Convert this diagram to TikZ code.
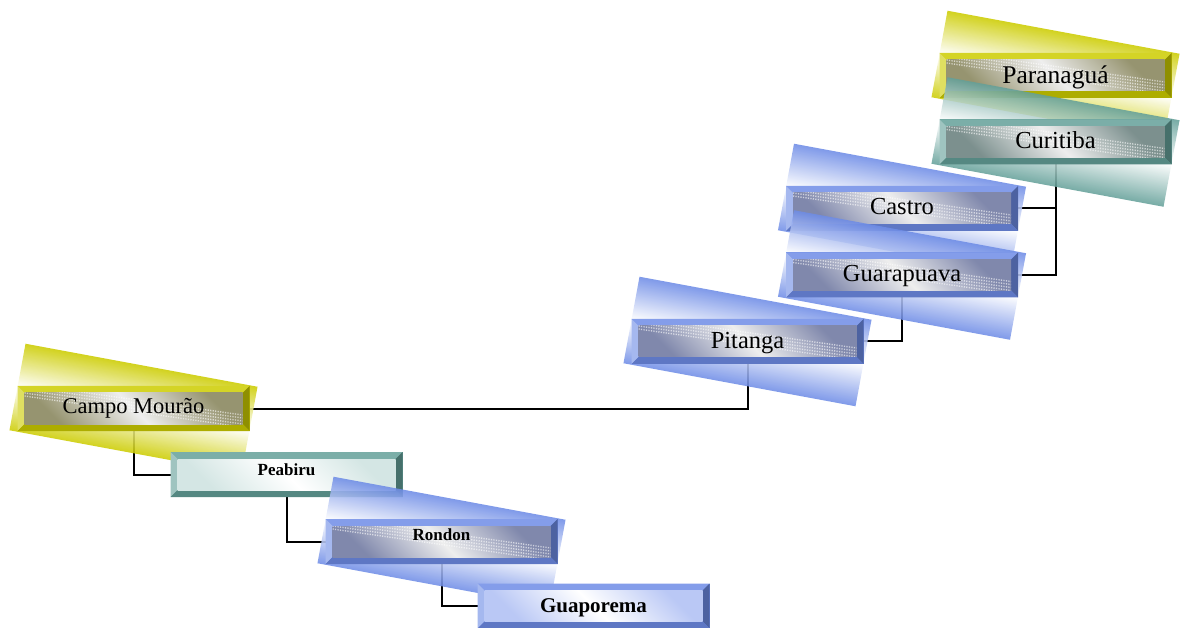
\documentclass[tikz,border=0pt]{standalone}
\usepackage{fontspec}
\setmainfont{Liberation Serif}
\pgfdeclarelayer{bg}
\pgfsetlayers{bg,main}
\definecolor{yel}{RGB}{204,204,0}
\definecolor{tea}{RGB}{100,160,153}
\definecolor{blu}{RGB}{110,140,230}
\definecolor{yelD}{RGB}{150,148,112}
\definecolor{teaD}{RGB}{124,144,142}
\definecolor{bluD}{RGB}{128,136,172}
\definecolor{metL}{RGB}{238,238,238}
\definecolor{teaP}{RGB}{212,230,228}
\definecolor{bluP}{RGB}{186,200,245}
\tikzset{
  conn/.style={draw=black, line width=2pt},
  cityframe/.style={minimum width=232pt, minimum height=45pt, inner sep=0pt, outer sep=0pt, fill=#1},
  citytext/.style={anchor=base, inner sep=0pt},
  streak/.style={draw=white, draw opacity=0.6, line width=1.4pt, dash pattern=on 1.2pt off 1.3pt},
}
\newcommand\tiltback[2]{%
  \begin{scope}[transform canvas={rotate around={-10.5:#1}}]
    \shade[top color=#2, bottom color=#2, middle color=white, fill opacity=0.88] #1 ++(-118,-44) rectangle ++(236,88);
  \end{scope}}
\newcommand\citybox[6]{%
  \node[cityframe=#3] (#1) at #2 {};
  \fill[#3!85!white] (#1.north west) -- (#1.north east) -- ([shift={(-7,7)}]#1.north east) -- ([shift={(7,7)}]#1.north west) -- cycle;
  \fill[#3!62!white] (#1.north west) -- ([shift={(7,7)}]#1.north west) -- ([shift={(7,-7)}]#1.south west) -- (#1.south west) -- cycle;
  \fill[#3!70!black] (#1.north east) -- (#1.south east) -- ([shift={(-7,-7)}]#1.south east) -- ([shift={(-7,7)}]#1.north east) -- cycle;
  \fill[#3!85!black] (#1.south west) -- (#1.south east) -- ([shift={(-7,-7)}]#1.south east) -- ([shift={(7,-7)}]#1.south west) -- cycle;
  \shade[top color=#4, bottom color=#4, middle color=#5, shading angle=-45] ([shift={(7,7)}]#1.north west) rectangle ([shift={(-7,-7)}]#1.south east);
  \ifnum#6=1
  \begin{scope}
    \clip ([shift={(7,7)}]#1.north west) rectangle ([shift={(-7,-7)}]#1.south east);
    \foreach \o in {-9,-6,-3,0,3} {
      \draw[streak] ([shift={(7,7+\o)}]#1.north west) -- ([shift={(-7,-7+\o)}]#1.south east);
    }
  \end{scope}
  \fi
}
\begin{document}
\begin{tikzpicture}[x=1pt,y=-1pt]
\useasboundingbox (0,0) rectangle (1184,628);
\tiltback{(1055.5,75.5)}{yel}
\citybox{par}{(1055.5,75.5)}{yel}{yelD}{metL}{1}
\node[citytext, font=\fontsize{25.5}{30}\selectfont] at ([yshift=-7.8pt]par.center) {Paranaguá};
\tiltback{(1055.5,142)}{tea}
\citybox{cur}{(1055.5,142)}{tea}{teaD}{metL}{1}
\node[citytext, font=\fontsize{24.5}{29}\selectfont] at ([yshift=-6.3pt]cur.center) {Curitiba};
\tiltback{(902,208.5)}{blu}
\citybox{cas}{(902,208.5)}{blu}{bluD}{metL}{1}
\node[citytext, font=\fontsize{24.5}{29}\selectfont] at ([yshift=-6.5pt]cas.center) {Castro};
\tiltback{(902,275)}{blu}
\citybox{gua}{(902,275)}{blu}{bluD}{metL}{1}
\node[citytext, font=\fontsize{24.5}{29}\selectfont] at ([yshift=-6.7pt]gua.center) {Guarapuava};
\tiltback{(747.5,341.5)}{blu}
\citybox{pit}{(747.5,341.5)}{blu}{bluD}{metL}{1}
\node[citytext, font=\fontsize{24.5}{29}\selectfont] at ([yshift=-6.8pt]pit.center) {Pitanga};
\tiltback{(133.5,408.5)}{yel}
\citybox{cam}{(133.5,408.5)}{yel}{yelD}{metL}{1}
\node[citytext, font=\fontsize{22.5}{27}\selectfont] at ([yshift=-4.8pt]cam.center) {Campo Mourão};
\citybox{pea}{(286.5,474.5)}{tea}{teaP}{white}{0}
\node[citytext, font=\fontsize{17}{20}\selectfont\bfseries] at ([yshift=-0.5pt]pea.center) {Peabiru};
\tiltback{(441.5,541.5)}{blu}
\citybox{ron}{(441.5,541.5)}{blu}{bluD}{metL}{1}
\node[citytext, font=\fontsize{17}{20}\selectfont\bfseries] at ([yshift=0.8pt]ron.center) {Rondon};
\citybox{gup}{(593.5,606)}{blu}{bluP}{white}{0}
\node[citytext, font=\fontsize{21}{25}\selectfont\bfseries] at ([yshift=-6.7pt]gup.center) {Guaporema};
\begin{pgfonlayer}{bg}
\draw[conn] (cur.south) -- (cur.south |- gua.east) -- (gua.east);
\draw[conn] (cur.south |- cas.east) -- (cas.east);
\draw[conn] (gua.south) -- (gua.south |- pit.east) -- (pit.east);
\draw[conn] (pit.south) -- (pit.south |- cam.east) -- (cam.east);
\draw[conn] (cam.south) -- (cam.south |- pea.west) -- (pea.west);
\draw[conn] (pea.south) -- (pea.south |- ron.west) -- (ron.west);
\draw[conn] (ron.south) -- (ron.south |- gup.west) -- (gup.west);
\end{pgfonlayer}
\end{tikzpicture}
\end{document}
